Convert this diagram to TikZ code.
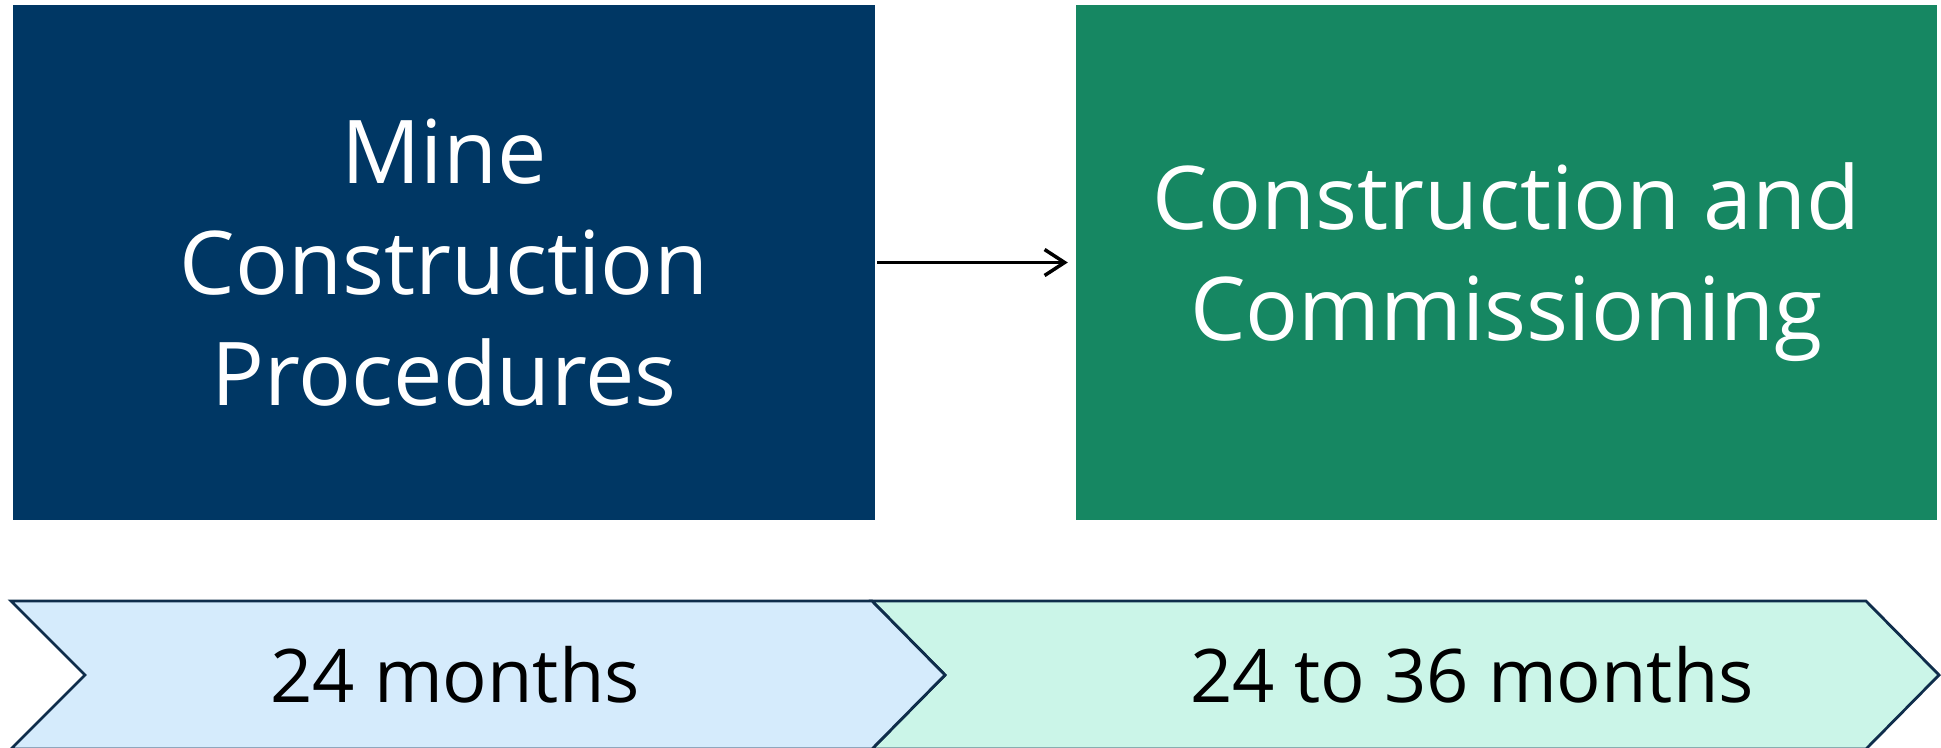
\documentclass[tikz,border=0pt]{standalone}
\usepackage{fontspec}
\setmainfont{Open Sans}
\usetikzlibrary{arrows.meta}

\definecolor{minebg}{RGB}{0,55,100}
\definecolor{commbg}{RGB}{22,135,98}
\definecolor{barblue}{RGB}{213,235,252}
\definecolor{bargreen}{RGB}{203,245,232}
\definecolor{barline}{RGB}{15,45,75}

\tikzset{
	phasebox/.style={inner sep=0pt,text=white,align=center,minimum height=515pt,font=\fontsize{88}{111}\selectfont},
	barlabel/.style={inner sep=0pt,text=black,font=\fontsize{74}{88}\selectfont},
	chevron/.style={draw=barline,line width=2.8pt,line join=miter}
}

\begin{document}
\begin{tikzpicture}[x=1pt,y=-1pt]
	\useasboundingbox (0,0) rectangle (1941,747);
	
	%PHASE BOXES
	\node[phasebox,fill=minebg,minimum width=862pt] (mine) at (444,262.5) {Mine\\Construction\\Procedures};
	\node[phasebox,fill=commbg,minimum width=861pt] (commission) at (1506.5,262.5) {Construction and\\Commissioning};
	
	%ARROW
	\draw[line width=3.5pt,-{Straight Barb[length=20pt,width=26pt,line width=3.5pt]},shorten <=2pt,shorten >=8pt] (mine.east) -- (commission.west);
	
	%TIMELINE CHEVRONS
	\draw[chevron,fill=bargreen] (872,601)--(1866,601)--(1939,675)--(1866,749)--(872,749)--(945,675)--cycle;	%second
	\draw[chevron,fill=barblue] (11,601)--(872,601)--(945,675)--(872,749)--(11,749)--(85,675)--cycle;	%first
	
	%LABELS
	\node[barlabel] (first) at (455,675) {24 months};
	\node[barlabel] (second) at (1472,675) {24 to 36 months};
\end{tikzpicture}
\end{document}
